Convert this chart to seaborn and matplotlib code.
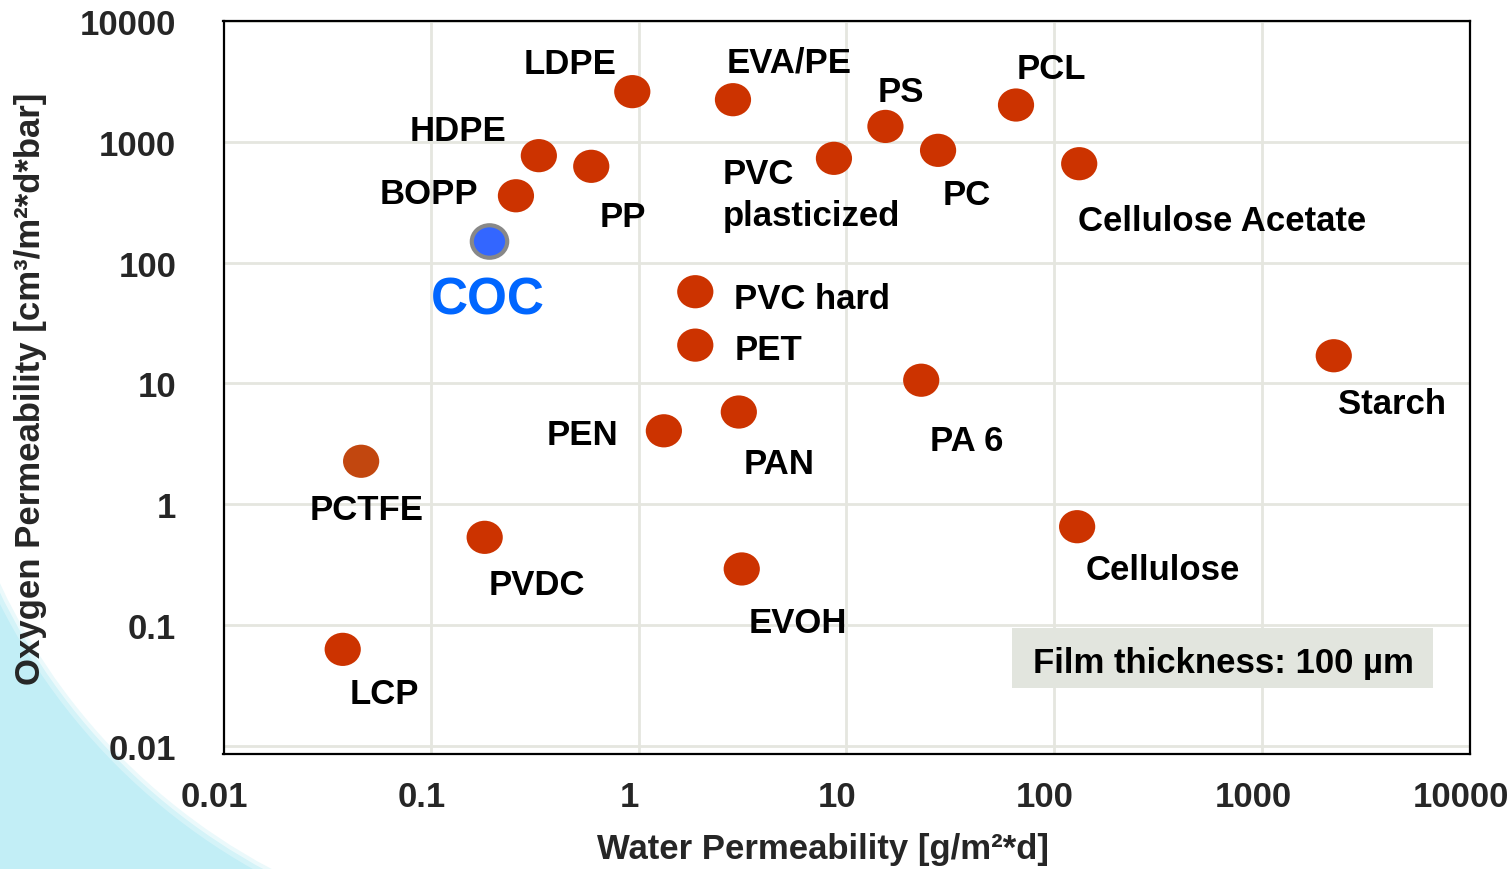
import numpy as np
import pandas as pd
import matplotlib
matplotlib.use("Agg")
import matplotlib.pyplot as plt
import seaborn as sns
from matplotlib.path import Path
from matplotlib.transforms import Affine2D, ScaledTranslation
from matplotlib.patches import Rectangle, Circle
from matplotlib.ticker import NullLocator

# ---------------- data ----------------
materials = ["LDPE", "EVA/PE", "PS", "PCL", "HDPE", "PP", "PVC\nplasticized", "PC",
             "Cellulose Acetate", "BOPP", "COC", "PVC hard", "PET", "Starch", "PA 6",
             "PAN", "PEN", "PCTFE", "Cellulose", "PVDC", "EVOH", "LCP"]
water_perm = [0.93, 2.84, 15.4, 65.5, 0.33, 0.59, 8.7, 27.6,
              132, 0.256, 0.19, 1.87, 1.87, 2220, 22.9,
              3.03, 1.32, 0.046, 129, 0.181, 3.13, 0.0375]
oxygen_perm = [2600, 2230, 1340, 2015, 767, 626, 729, 849,
               658, 357, 152, 57.3, 20.7, 16.9, 10.6,
               5.78, 4.04, 2.26, 0.649, 0.53, 0.29, 0.0626]
groups = ["polymer"] * len(materials)
groups[materials.index("COC")] = "COC"
groups[materials.index("PCTFE")] = "PCTFE"

tick_values = [0.01, 0.1, 1, 10, 100, 1000, 10000]
tick_labels = ["0.01", "0.1", "1", "10", "100", "1000", "10000"]

x_label = "Water Permeability [g/m\u00b2*d]"
y_label = "Oxygen Permeability [cm\u00b3/m\u00b2*d*bar]"
note_text = "Film thickness: 100 \u00b5m"

df = pd.DataFrame({"material": materials, "water": water_perm,
                   "oxygen": oxygen_perm, "group": groups})

# ---------------- label placement (pixel offsets from marker) ----------------
label_style = {
    "LDPE": (-16, 19, "right"),
    "EVA/PE": (-6, 28, "left"),
    "PS": (-8, 25, "left"),
    "PCL": (1, 27, "left"),
    "HDPE": (-32, 16, "right"),
    "PP": (8, -60, "left"),
    "PVC\nplasticized": (-111, -25, "left"),
    "PC": (5, -54, "left"),
    "Cellulose Acetate": (-1, -66, "left"),
    "BOPP": (-38, -7.5, "right"),
    "COC": (-1, -73, "center"),
    "PVC hard": (39, -16, "left"),
    "PET": (39, -13.5, "left"),
    "Starch": (4.5, -57, "left"),
    "PA 6": (8.5, -70, "left"),
    "PAN": (5, -61, "left"),
    "PEN": (-45, -13, "right"),
    "PCTFE": (5, -58, "center"),
    "Cellulose": (8, -52.5, "left"),
    "PVDC": (4, -57, "left"),
    "EVOH": (6.5, -63, "left"),
    "LCP": (6.5, -54, "left"),
}

# ---------------- styling ----------------
sns.set_style("white")
plt.rcParams["font.family"] = ["Liberation Sans", "DejaVu Sans"]
plt.rcParams["font.weight"] = "bold"

W, H, DPI = 15.1, 8.7, 100
fig = plt.figure(figsize=(W, H), dpi=DPI)
fig.patch.set_facecolor("white")

# decorative light-blue corner
fig_w_px, fig_h_px = W * DPI, H * DPI
to_fig = Affine2D().scale(1 / fig_w_px, 1 / fig_h_px) + fig.transFigure
fig.patches.append(Rectangle((0, 0), 320, 320, facecolor="#C2EEF6", edgecolor="none",
                             transform=to_fig, zorder=-10))
for rr, a in [(630, 0.3), (625, 0.55)]:
    fig.patches.append(Circle((562.5, 548.6), rr, facecolor="white", edgecolor="none",
                              alpha=a, transform=to_fig, zorder=-9))
fig.patches.append(Circle((562.5, 548.6), 621, facecolor="white", edgecolor="none",
                          transform=to_fig, zorder=-8))

ax = fig.add_axes([223.5 / fig_w_px, 1 - 755 / fig_h_px,
                   1246 / fig_w_px, 733 / fig_h_px])
ax.set_facecolor("white")

ellipse = Path.unit_circle().transformed(Affine2D().scale(1.0, 0.917))

plain = df[df["group"] != "COC"]
coc = df[df["group"] == "COC"]
sns.scatterplot(data=plain, x="water", y="oxygen", hue="group",
                palette={"polymer": "#CC3300", "PCTFE": "#C2470F"},
                marker=ellipse, s=680, linewidth=0, legend=False, ax=ax, zorder=3)
sns.scatterplot(data=coc, x="water", y="oxygen", color="#3366FF",
                edgecolor="#888888", linewidth=3, marker=ellipse, s=650,
                legend=False, ax=ax, zorder=4)

ax.set_xscale("log")
ax.set_yscale("log")
ax.set_xlim(0.01, 10000)
ax.set_ylim(10 ** -2.07, 10000)
ax.set_xticks(tick_values, tick_labels, fontsize=25, fontweight="bold")
ax.set_yticks(tick_values, tick_labels, fontsize=25, fontweight="bold")
ax.xaxis.set_minor_locator(NullLocator())
ax.yaxis.set_minor_locator(NullLocator())
ax.tick_params(axis="both", length=0)
ax.tick_params(axis="y", pad=34)
ax.tick_params(axis="x", pad=19)
shift = ScaledTranslation(-9 / DPI, 0, fig.dpi_scale_trans)
for lbl in ax.get_xticklabels():
    lbl.set_transform(lbl.get_transform() + shift)

ax.grid(True, which="major", color="#E5E6DF", linewidth=2.0)
ax.set_axisbelow(True)
for sp in ax.spines.values():
    sp.set_color("black")
    sp.set_linewidth(1.6)
    sp.set_visible(True)

ax.set_xlabel(x_label, fontsize=25, fontweight="bold")
ax.set_ylabel(y_label, fontsize=25, fontweight="bold")
ax.xaxis.set_label_coords(0.4815, -0.1296)
ax.xaxis.label.set_va("center")
ax.yaxis.set_label_coords(-0.1545, 0.5)
ax.yaxis.label.set_va("center")

# point labels
for name, xv, yv in zip(df["material"], df["water"], df["oxygen"]):
    dx, dy, ha = label_style[name]
    is_coc = name == "COC"
    for i, line in enumerate(name.split("\n")):
        ax.annotate(line, xy=(xv, yv), xytext=(dx, dy - i * 41.6),
                    textcoords="offset pixels", ha=ha, va="baseline",
                    fontsize=37 if is_coc else 25, fontweight="bold",
                    color="#0066FF" if is_coc else "black", zorder=5)

# film thickness note
ax.add_patch(Rectangle((0.633, 0.0896), 0.3374, 0.0823, transform=ax.transAxes,
                       facecolor="#E2E5DE", edgecolor="none", zorder=4))
ax.text(0.6495, 0.1116, note_text, transform=ax.transAxes, ha="left", va="baseline",
        fontsize=25, fontweight="bold", color="black", zorder=5)

fig.savefig("out.png", dpi=DPI, facecolor="white")
